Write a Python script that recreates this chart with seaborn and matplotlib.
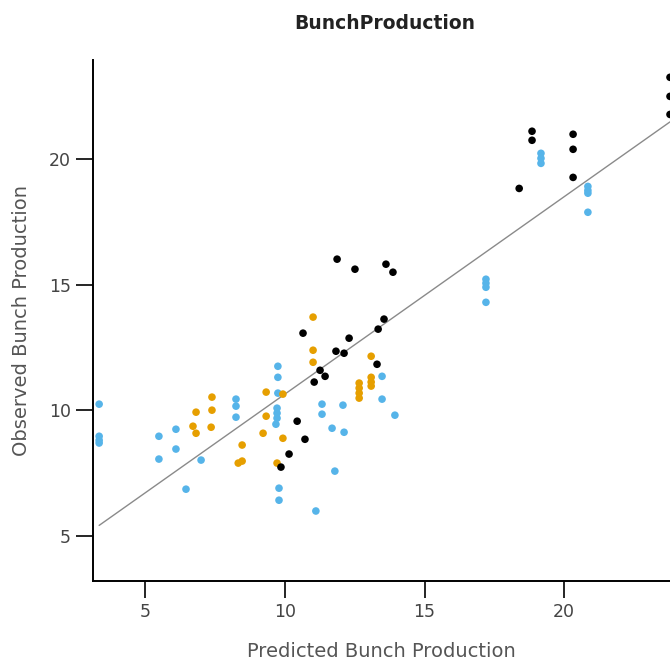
import numpy as np
import pandas as pd
import matplotlib
matplotlib.use("Agg")
import matplotlib.pyplot as plt
import seaborn as sns

# ---- data ----
blue_x = [3.35, 3.35, 3.35, 3.35, 5.49, 5.49, 6.10, 6.10, 6.46, 7.00,
          8.25, 8.25, 8.25, 9.75, 9.75, 9.75, 9.72, 9.72, 9.72, 9.68,
          9.79, 9.79, 11.11, 11.33, 11.33, 12.08, 11.69, 12.12, 11.79,
          13.48, 13.48, 13.94, 17.20, 17.20, 17.20, 17.20,
          19.17, 19.17, 19.17, 20.85, 20.85, 20.85, 20.85]
blue_y = [10.24, 8.96, 8.80, 8.69, 8.96, 8.05, 9.24, 8.45, 6.85, 8.01,
          10.44, 10.16, 9.72, 11.75, 11.31, 10.68, 10.08, 9.88, 9.68, 9.44,
          6.89, 6.41, 5.98, 10.24, 9.84, 10.20, 9.28, 9.12, 7.57,
          11.35, 10.44, 9.80, 15.22, 15.06, 14.90, 14.30,
          20.24, 20.04, 19.84, 18.92, 18.76, 18.65, 17.89]

orange_x = [6.82, 7.39, 7.39, 6.71, 6.82, 7.36, 8.47, 8.33, 8.47,
            9.33, 9.33, 9.22, 9.93, 9.93, 9.72, 11.01, 11.01, 11.01,
            13.09, 13.09, 13.09, 13.09, 12.66, 12.66, 12.66, 12.66]
orange_y = [9.92, 10.52, 10.00, 9.36, 9.08, 9.32, 8.61, 7.89, 7.97,
            10.72, 9.76, 9.08, 10.64, 8.88, 7.89, 13.71, 12.39, 11.91,
            12.15, 11.31, 11.12, 10.96, 11.08, 10.88, 10.68, 10.48]

black_x = [11.87, 12.51, 13.62, 13.87, 10.65, 12.30, 13.55, 13.34, 11.83,
           12.12, 13.30, 11.26, 11.44, 11.05, 10.44, 10.72, 10.15, 9.86,
           18.85, 18.85, 18.39, 20.32, 20.32, 20.32, 23.79, 23.79, 23.79]
black_y = [16.02, 15.62, 15.82, 15.50, 13.07, 12.87, 13.63, 13.23, 12.35,
           12.27, 11.83, 11.59, 11.35, 11.12, 9.56, 8.84, 8.25, 7.73,
           21.12, 20.76, 18.84, 21.00, 20.40, 19.28, 23.27, 22.51, 21.79]

fit_slope = 0.787
fit_intercept = 2.77

x_ticks = [5, 10, 15, 20]
y_ticks = [5, 10, 15, 20]

title = "BunchProduction"
x_label = "Predicted Bunch Production"
y_label = "Observed Bunch Production"

# ---- build frame ----
df = pd.DataFrame({
    "Predicted": blue_x + orange_x + black_x,
    "Observed": blue_y + orange_y + black_y,
    "Group": (["blue"] * len(blue_x) + ["orange"] * len(orange_x)
              + ["black"] * len(black_x)),
})
palette = {"blue": "#56B4E9", "orange": "#E69F00", "black": "#000000"}

sns.set_theme(style="white")
plt.rcParams["font.family"] = ["DejaVu Sans"]

fig = plt.figure(figsize=(6.70, 6.63), dpi=100)
ax = fig.add_axes([0.1388, 0.1237, 0.8612, 0.7858])

sns.scatterplot(data=df, x="Predicted", y="Observed", hue="Group",
                hue_order=["blue", "orange", "black"], palette=palette,
                s=30, linewidth=0, legend=False, ax=ax, zorder=3)

all_x = np.array(df["Predicted"])
line_x = np.array([all_x.min(), all_x.max()])
ax.plot(line_x, fit_intercept + fit_slope * line_x, color="#8a8a8a",
        linewidth=1.0, zorder=2)

ax.set_xlim(3.13, 23.79)
ax.set_ylim(3.19, 23.96)
ax.set_xticks(x_ticks)
ax.set_yticks(y_ticks)

for side in ["top", "right"]:
    ax.spines[side].set_visible(False)
for side in ["left", "bottom"]:
    ax.spines[side].set_color("black")
    ax.spines[side].set_linewidth(1.4)

ax.tick_params(axis="both", which="major", direction="out", length=12,
               width=1.2, color="black", labelsize=12.5,
               labelcolor="#444444", pad=4, bottom=True, left=True)

ax.set_xlabel(x_label, fontsize=14, color="#555555", labelpad=15)
ax.set_ylabel(y_label, fontsize=14, color="#555555", labelpad=13)
fig.text(0.575, 0.965, title, ha="center", va="center", fontsize=13.5,
         fontweight="bold", color="#222222")

fig.savefig("out.png", dpi=100)
